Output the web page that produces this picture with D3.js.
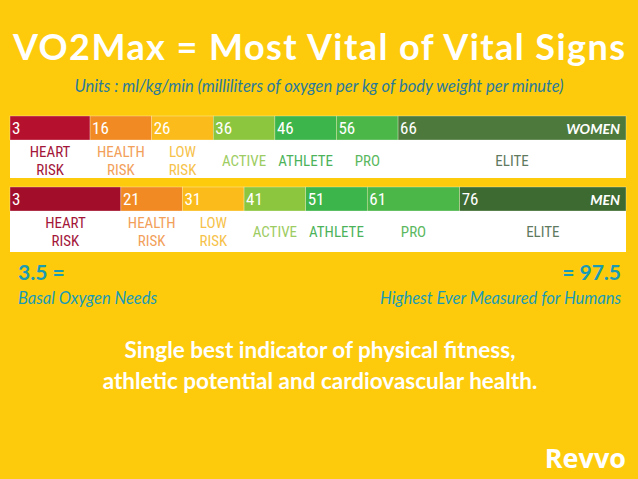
<!DOCTYPE html>
<html><head><meta charset="utf-8">
<script src="https://cdn.jsdelivr.net/npm/d3@7"></script>
<style>body{margin:0;background:#fdcb0c}svg{display:block}</style>
</head><body><svg id="chart"></svg>
<script>
// VO2max thresholds (ml/kg/min)
const categories = ['HEART\nRISK', 'HEALTH\nRISK', 'LOW\nRISK', 'ACTIVE', 'ATHLETE', 'PRO', 'ELITE']
const womenStarts = [3, 16, 26, 36, 46, 56, 66]
const menStarts = [3, 21, 31, 41, 51, 61, 76]
const scaleMax = 103

const W = 638, H = 479
const svg = d3.select('#chart').attr('width', W).attr('height', H)
const font = 'Lato, "Open Sans", sans-serif'
const narrow = '"Liberation Sans Narrow", "Roboto Condensed", Roboto, sans-serif'

const x = d3.scaleLinear().domain([3, scaleMax]).range([10, 626])
const fill = d3.scaleOrdinal().domain(categories)
  .range(['#b0102d', '#f18a22', '#fbbb1a', '#8cc63f', '#3cb54a', '#4ab748', '#4c7a3b'])
const textCol = d3.scaleOrdinal().domain(categories)
  .range(['#a3163a', '#f2a05a', '#f6c24a', '#9dcc63', '#4db35b', '#5bb860', '#5f7a5f'])

svg.append('text').attr('x', W / 2).attr('y', 60).attr('text-anchor', 'middle')
  .attr('fill', '#fff').attr('font-family', font).attr('font-weight', 'bold')
  .attr('font-size', 36).attr('textLength', 612).text('VO2Max = Most Vital of Vital Signs')
svg.append('text').attr('x', W / 2).attr('y', 92).attr('text-anchor', 'middle')
  .attr('fill', '#2b7a9a').attr('font-family', font).attr('font-style', 'italic')
  .attr('font-size', 16.5).text('Units : ml/kg/min (milliliters of oxygen per kg of body weight per minute)')

function drawBar(starts, top, name, heartColor, eliteColor) {
  const g = svg.append('g')
  const segs = starts.map((s, i) => ({ cat: categories[i], s, e: starts[i + 1] || scaleMax }))
  g.append('rect').attr('x', x(3)).attr('y', top + 24).attr('width', x(scaleMax) - x(3))
    .attr('height', name === 'MEN' ? 41 : 38).attr('fill', '#fff')
  g.selectAll('rect.seg').data(segs).join('rect').attr('class', 'seg')
    .attr('x', d => x(d.s)).attr('y', top).attr('width', d => x(d.e) - x(d.s)).attr('height', 24)
    .attr('fill', (d, i) => i === 0 ? heartColor : i === 6 ? eliteColor : fill(d.cat))
    .attr('stroke', 'rgba(255,255,255,0.5)').attr('stroke-width', 0.6)
  g.selectAll('text.val').data(segs).join('text').attr('class', 'val')
    .attr('x', d => x(d.s) + 2).attr('y', top + 18).attr('fill', '#fff')
    .attr('font-family', narrow).attr('font-size', 17).text(d => d.s)
  g.append('text').attr('x', x(scaleMax) - 6).attr('y', top + 18).attr('text-anchor', 'end')
    .attr('fill', '#fff').attr('font-family', font).attr('font-weight', 'bold')
    .attr('font-style', 'italic').attr('font-size', 14).text(name)
  const lab = g.selectAll('text.lab').data(segs).join('text').attr('class', 'lab')
    .attr('text-anchor', 'middle').attr('fill', d => textCol(d.cat))
    .attr('font-family', narrow).attr('font-size', 15)
  lab.each(function (d) {
    const lines = d.cat.split('\n')
    const cx = (x(d.s) + x(d.e)) / 2
    const base = lines.length > 1 ? top + 41 : top + 50
    lines.forEach((t, k) => d3.select(this).append('tspan')
      .attr('x', cx).attr('y', base + k * 18).text(t))
  })
}
drawBar(womenStarts, 116, 'WOMEN', '#b5112e', '#4d7a3c')
drawBar(menStarts, 187, 'MEN', '#a20d2a', '#3d6a31')

const teal = '#1a9bb5'
svg.append('text').attr('x', 18).attr('y', 280).attr('fill', teal).attr('font-family', font)
  .attr('font-weight', 'bold').attr('font-size', 21).text('3.5 =')
svg.append('text').attr('x', 18).attr('y', 304).attr('fill', teal).attr('font-family', font)
  .attr('font-style', 'italic').attr('font-size', 16.5).text('Basal Oxygen Needs')
svg.append('text').attr('x', 621).attr('y', 280).attr('text-anchor', 'end').attr('fill', teal)
  .attr('font-family', font).attr('font-weight', 'bold').attr('font-size', 21).text('= 97.5')
svg.append('text').attr('x', 621).attr('y', 304).attr('text-anchor', 'end').attr('fill', teal)
  .attr('font-family', font).attr('font-style', 'italic').attr('font-size', 16.5)
  .text('Highest Ever Measured for Humans')

;['Single best indicator of physical fitness,', 'athletic potential and cardiovascular health.']
  .forEach((t, i) => svg.append('text').attr('x', 320).attr('y', 358 + i * 31)
    .attr('text-anchor', 'middle').attr('fill', '#fff').attr('font-family', font)
    .attr('font-weight', 'bold').attr('font-size', 22.5).text(t))

svg.append('text').attr('x', 626).attr('y', 468).attr('text-anchor', 'end').attr('fill', '#fff')
  .attr('font-family', '"Open Sans", sans-serif').attr('font-weight', 'bold')
  .attr('font-size', 27).text('Revvo')
</script></body></html>
